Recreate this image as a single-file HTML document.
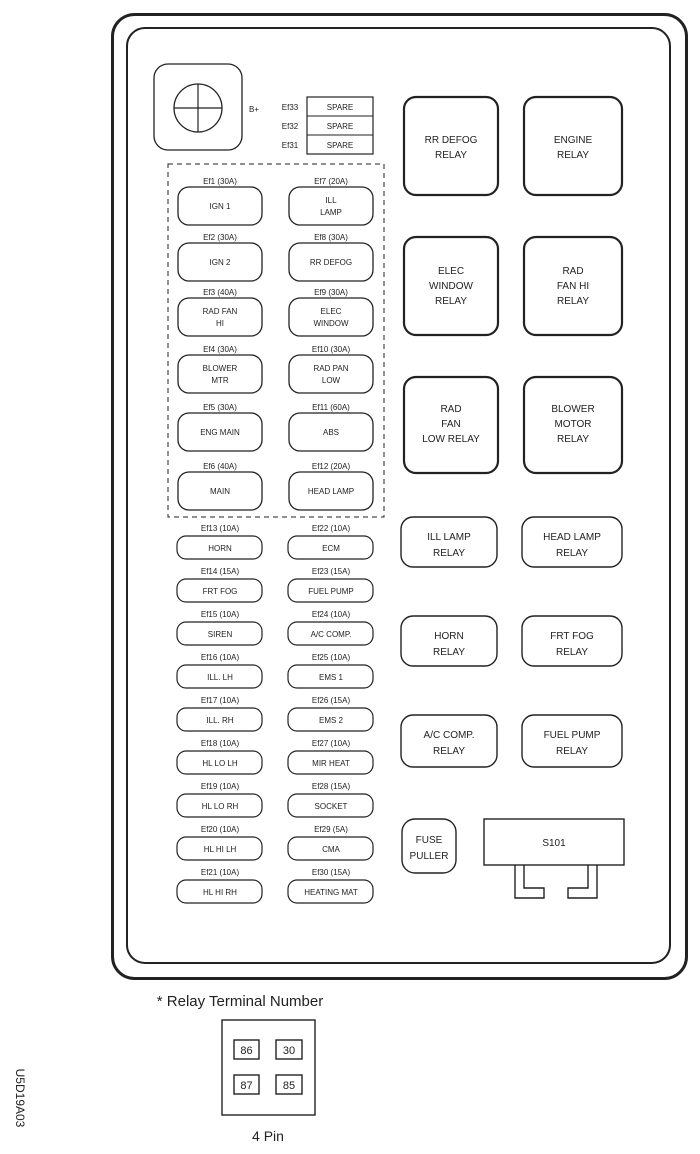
<!DOCTYPE html>
<html><head><meta charset="utf-8"><style>
html,body{margin:0;padding:0;background:#fff}
svg{display:block}
text{font-family:"Liberation Sans",sans-serif;fill:#222;text-anchor:middle}
</style></head><body>
<svg width="700" height="1154" viewBox="0 0 700 1154" xmlns="http://www.w3.org/2000/svg">
<g fill="none" stroke="#222">
<rect x="112.5" y="14.5" width="574" height="964" rx="22" stroke-width="3"/>
<rect x="127" y="28" width="543" height="935" rx="18" stroke-width="2"/>
<rect x="154" y="64" width="88" height="86" rx="14" stroke-width="1.3"/>
<circle cx="198" cy="108" r="24" stroke-width="1.3"/>
<line x1="174" y1="108" x2="222" y2="108" stroke-width="1.2"/>
<line x1="198" y1="84" x2="198" y2="132" stroke-width="1.2"/>
<rect x="307" y="97" width="66" height="57" stroke-width="1.2"/>
<line x1="307" y1="116" x2="373" y2="116"/><line x1="307" y1="135" x2="373" y2="135"/>
<rect x="168" y="164" width="216" height="353" stroke-dasharray="5,4" stroke-width="1"/>
</g>
<g font-size="8">
<text x="254" y="112">B+</text>
<text x="290" y="110">Ef33</text><text x="290" y="129">Ef32</text><text x="290" y="148">Ef31</text>
<text x="340" y="110">SPARE</text><text x="340" y="129">SPARE</text><text x="340" y="148">SPARE</text>
</g>
<g fill="none" stroke="#222" stroke-width="1.3">
<rect x="178" y="187" width="84" height="38" rx="11"/><rect x="289" y="187" width="84" height="38" rx="11"/>
<rect x="178" y="243" width="84" height="38" rx="11"/><rect x="289" y="243" width="84" height="38" rx="11"/>
<rect x="178" y="298" width="84" height="38" rx="11"/><rect x="289" y="298" width="84" height="38" rx="11"/>
<rect x="178" y="355" width="84" height="38" rx="11"/><rect x="289" y="355" width="84" height="38" rx="11"/>
<rect x="178" y="413" width="84" height="38" rx="11"/><rect x="289" y="413" width="84" height="38" rx="11"/>
<rect x="178" y="472" width="84" height="38" rx="11"/><rect x="289" y="472" width="84" height="38" rx="11"/>
</g>
<g font-size="8">
<text x="220" y="184">Ef1 (30A)</text><text x="331" y="184">Ef7 (20A)</text>
<text x="220" y="209">IGN 1</text><text x="331" y="203">ILL</text><text x="331" y="215">LAMP</text>
<text x="220" y="240">Ef2 (30A)</text><text x="331" y="240">Ef8 (30A)</text>
<text x="220" y="265">IGN 2</text><text x="331" y="265">RR DEFOG</text>
<text x="220" y="295">Ef3 (40A)</text><text x="331" y="295">Ef9 (30A)</text>
<text x="220" y="314">RAD FAN</text><text x="220" y="326">HI</text><text x="331" y="314">ELEC</text><text x="331" y="326">WINDOW</text>
<text x="220" y="352">Ef4 (30A)</text><text x="331" y="352">Ef10 (30A)</text>
<text x="220" y="371">BLOWER</text><text x="220" y="383">MTR</text><text x="331" y="371">RAD PAN</text><text x="331" y="383">LOW</text>
<text x="220" y="410">Ef5 (30A)</text><text x="331" y="410">Ef11 (60A)</text>
<text x="220" y="435">ENG MAIN</text><text x="331" y="435">ABS</text>
<text x="220" y="469">Ef6 (40A)</text><text x="331" y="469">Ef12 (20A)</text>
<text x="220" y="494">MAIN</text><text x="331" y="494">HEAD LAMP</text>
</g>
<g fill="none" stroke="#222" stroke-width="1.2">
<rect x="177" y="536" width="85" height="23" rx="9"/><rect x="288" y="536" width="85" height="23" rx="9"/>
<rect x="177" y="579" width="85" height="23" rx="9"/><rect x="288" y="579" width="85" height="23" rx="9"/>
<rect x="177" y="622" width="85" height="23" rx="9"/><rect x="288" y="622" width="85" height="23" rx="9"/>
<rect x="177" y="665" width="85" height="23" rx="9"/><rect x="288" y="665" width="85" height="23" rx="9"/>
<rect x="177" y="708" width="85" height="23" rx="9"/><rect x="288" y="708" width="85" height="23" rx="9"/>
<rect x="177" y="751" width="85" height="23" rx="9"/><rect x="288" y="751" width="85" height="23" rx="9"/>
<rect x="177" y="794" width="85" height="23" rx="9"/><rect x="288" y="794" width="85" height="23" rx="9"/>
<rect x="177" y="837" width="85" height="23" rx="9"/><rect x="288" y="837" width="85" height="23" rx="9"/>
<rect x="177" y="880" width="85" height="23" rx="9"/><rect x="288" y="880" width="85" height="23" rx="9"/>
</g>
<g font-size="8">
<text x="220" y="531">Ef13 (10A)</text><text x="331" y="531">Ef22 (10A)</text>
<text x="220" y="551">HORN</text><text x="331" y="551">ECM</text>
<text x="220" y="574">Ef14 (15A)</text><text x="331" y="574">Ef23 (15A)</text>
<text x="220" y="594">FRT FOG</text><text x="331" y="594">FUEL PUMP</text>
<text x="220" y="617">Ef15 (10A)</text><text x="331" y="617">Ef24 (10A)</text>
<text x="220" y="637">SIREN</text><text x="331" y="637">A/C COMP.</text>
<text x="220" y="660">Ef16 (10A)</text><text x="331" y="660">Ef25 (10A)</text>
<text x="220" y="680">ILL. LH</text><text x="331" y="680">EMS 1</text>
<text x="220" y="703">Ef17 (10A)</text><text x="331" y="703">Ef26 (15A)</text>
<text x="220" y="723">ILL. RH</text><text x="331" y="723">EMS 2</text>
<text x="220" y="746">Ef18 (10A)</text><text x="331" y="746">Ef27 (10A)</text>
<text x="220" y="766">HL LO LH</text><text x="331" y="766">MIR HEAT</text>
<text x="220" y="789">Ef19 (10A)</text><text x="331" y="789">Ef28 (15A)</text>
<text x="220" y="809">HL LO RH</text><text x="331" y="809">SOCKET</text>
<text x="220" y="832">Ef20 (10A)</text><text x="331" y="832">Ef29 (5A)</text>
<text x="220" y="852">HL HI LH</text><text x="331" y="852">CMA</text>
<text x="220" y="875">Ef21 (10A)</text><text x="331" y="875">Ef30 (15A)</text>
<text x="220" y="895">HL HI RH</text><text x="331" y="895">HEATING MAT</text>
</g>
<g fill="none" stroke="#222" stroke-width="2.2">
<rect x="404" y="97" width="94" height="98" rx="12"/><rect x="524" y="97" width="98" height="98" rx="12"/>
<rect x="404" y="237" width="94" height="98" rx="12"/><rect x="524" y="237" width="98" height="98" rx="12"/>
<rect x="404" y="377" width="94" height="96" rx="12"/><rect x="524" y="377" width="98" height="96" rx="12"/>
</g>
<g fill="none" stroke="#222" stroke-width="1.4">
<rect x="401" y="517" width="96" height="50" rx="12"/><rect x="522" y="517" width="100" height="50" rx="12"/>
<rect x="401" y="616" width="96" height="50" rx="12"/><rect x="522" y="616" width="100" height="50" rx="12"/>
<rect x="401" y="715" width="96" height="52" rx="12"/><rect x="522" y="715" width="100" height="52" rx="12"/>
<rect x="402" y="819" width="54" height="54" rx="13"/>
<rect x="484" y="819" width="140" height="46"/>
<path d="M515 865 V898 H544 V888 H524 V865"/>
<path d="M597 865 V898 H568 V888 H588 V865"/>
</g>
<g font-size="10">
<text x="451" y="143">RR DEFOG</text><text x="451" y="158">RELAY</text>
<text x="573" y="143">ENGINE</text><text x="573" y="158">RELAY</text>
<text x="451" y="274">ELEC</text><text x="451" y="289">WINDOW</text><text x="451" y="304">RELAY</text>
<text x="573" y="274">RAD</text><text x="573" y="289">FAN HI</text><text x="573" y="304">RELAY</text>
<text x="451" y="412">RAD</text><text x="451" y="427">FAN</text><text x="451" y="442">LOW RELAY</text>
<text x="573" y="412">BLOWER</text><text x="573" y="427">MOTOR</text><text x="573" y="442">RELAY</text>
<text x="449" y="540">ILL LAMP</text><text x="449" y="556">RELAY</text>
<text x="572" y="540">HEAD LAMP</text><text x="572" y="556">RELAY</text>
<text x="449" y="639">HORN</text><text x="449" y="655">RELAY</text>
<text x="572" y="639">FRT FOG</text><text x="572" y="655">RELAY</text>
<text x="449" y="738">A/C COMP.</text><text x="449" y="754">RELAY</text>
<text x="572" y="738">FUEL PUMP</text><text x="572" y="754">RELAY</text>
<text x="429" y="843">FUSE</text><text x="429" y="859">PULLER</text>
<text x="554" y="846">S101</text>
</g>
<text x="240" y="1006" font-size="15">* Relay Terminal Number</text>
<g fill="none" stroke="#222" stroke-width="1.4">
<rect x="222" y="1020" width="93" height="95"/>
<rect x="234" y="1040" width="25" height="19"/><rect x="276" y="1040" width="26" height="19"/>
<rect x="234" y="1075" width="25" height="19"/><rect x="276" y="1075" width="26" height="19"/>
</g>
<g font-size="11">
<text x="246.5" y="1054">86</text><text x="289" y="1054">30</text>
<text x="246.5" y="1089">87</text><text x="289" y="1089">85</text>
</g>
<text x="268" y="1141" font-size="14">4 Pin</text>
<text x="0" y="0" font-size="12" transform="translate(16,1098) rotate(90)">U5D19A03</text>
</svg>
</body></html>
